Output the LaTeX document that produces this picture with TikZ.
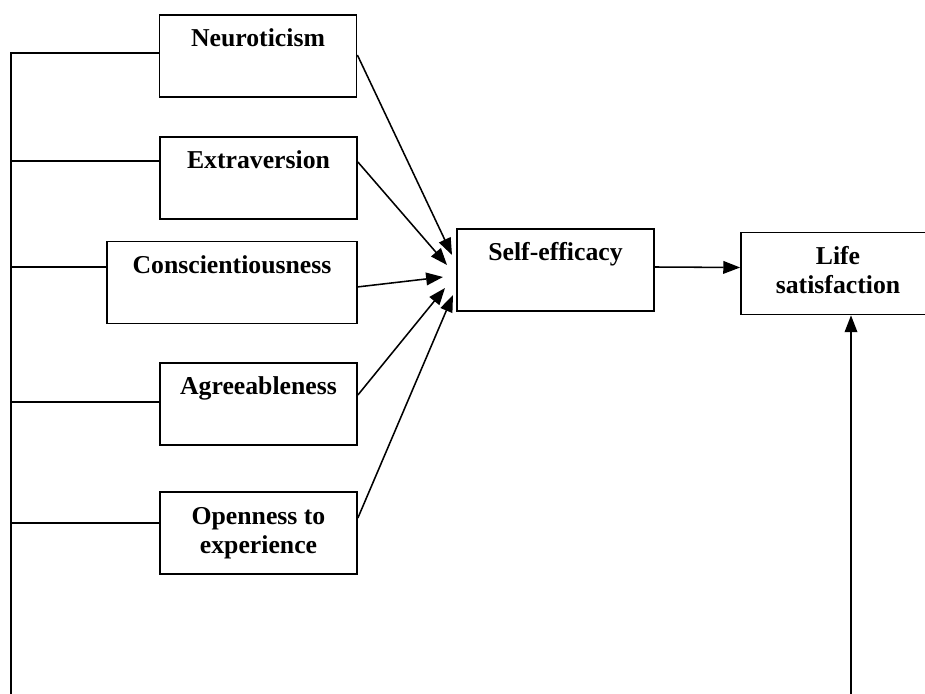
\documentclass[tikz,border=0pt]{standalone}
\usepackage{fontspec}
\setmainfont{Liberation Serif}
\usetikzlibrary{arrows.meta}
\tikzset{
  trait/.style={draw, line width=1.2pt, inner sep=0pt, align=center,
    minimum width=4.925cm, minimum height=2.05cm,
    text height=0.8cm, text depth=1.25cm,
    font=\fontsize{18.3pt}{20.6pt}\selectfont\bfseries},
  twoline/.style={text height=1.525cm, text depth=0.525cm},
  link/.style={line width=1.1pt},
  arr/.style={link, -{Triangle[length=12pt,width=9pt]}}
}
\begin{document}
\begin{tikzpicture}[x=0.025cm,y=-0.025cm]
    \clip (0,0) rectangle (925,694);
    \fill[white] (0,0) rectangle (925,694);
    % the five traits
    \node[trait] (neu) at (258,56) {Neuroticism};
    \node[trait] (ext) at (258.5,178) {Extraversion};
    \node[trait,minimum width=6.25cm] (con) at (232,282.5) {Conscientiousness};
    \node[trait] (agr) at (258.5,404) {Agreeableness};
    \node[trait,twoline] (ope) at (258.5,533) {Openness to\\experience};
    % mediator and outcome
    \node[trait] (self) at (555.5,270) {Self-efficacy};
    \node[trait,twoline,minimum width=4.85cm] (life) at (838,273.5) {Life\\satisfaction};
    % arrow ends near self-efficacy
    \coordinate (t1) at (452,255);
    \coordinate (t2) at (447,265);
    \coordinate (t3) at (443,277);
    \coordinate (t4) at (445,288);
    \coordinate (t5) at (453,295);
    \draw[arr] ([yshift=0.025cm]neu.east) to (t1);
    \draw[arr] ([yshift=0.4cm]ext.east) to (t2);
    \draw[arr] ([yshift=-0.11cm]con.east) to (t3);
    \draw[arr] ([yshift=0.225cm]agr.east) to (t4);
    \draw[arr] ([yshift=0.375cm]ope.east) to (t5);
    \draw[arr] ([yshift=0.075cm]self.east) to ([yshift=0.15cm]life.west);
    % left bus
    \coordinate (busend) at (11,694);
    \coordinate (w1) at ([yshift=0.075cm]neu.west);
    \coordinate (w2) at ([yshift=0.425cm]ext.west);
    \coordinate (w3) at ([yshift=0.39cm]con.west);
    \coordinate (w4) at ([yshift=0.05cm]agr.west);
    \coordinate (w5) at ([yshift=0.25cm]ope.west);
    \draw[link] (busend) |- (w1);
    \foreach \w in {w2,w3,w4,w5}
      \draw[link] (\w) to (busend |- \w);
    % right line up to life satisfaction
    \coordinate (rightend) at (851,694);
    \draw[arr] (rightend) to (rightend |- life.south);
\end{tikzpicture}
\end{document}
